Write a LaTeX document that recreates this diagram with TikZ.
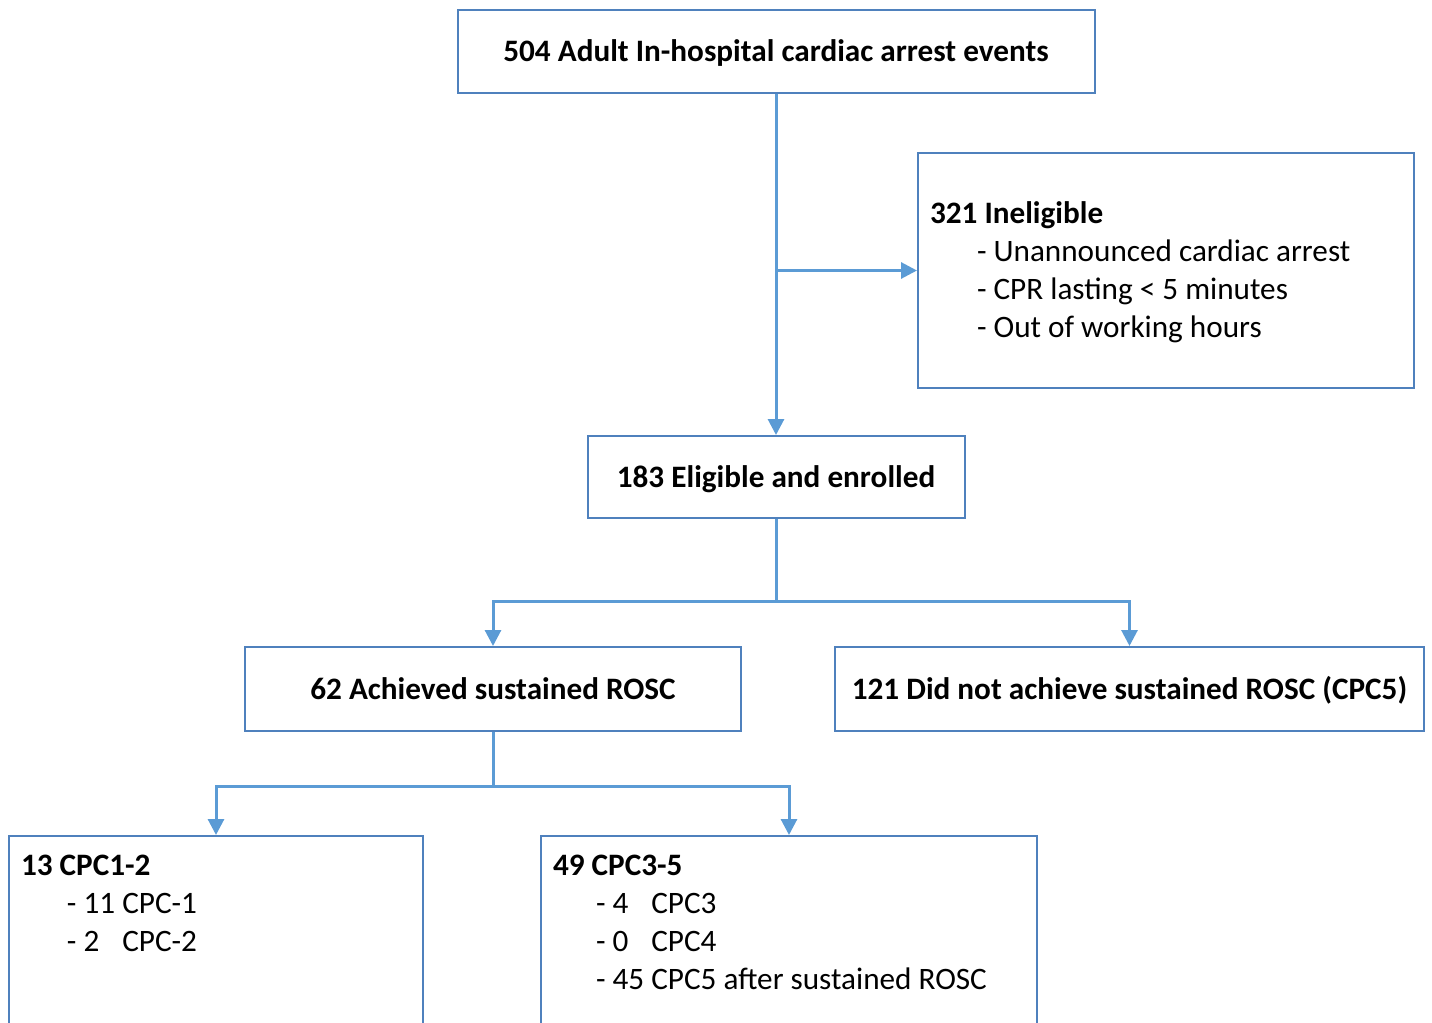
\documentclass[tikz,border=0pt]{standalone}
\usepackage{fontspec}
\setmainfont{Carlito}
\usetikzlibrary{positioning, arrows.meta, calc}
\definecolor{flowLine}{RGB}{91,155,213}
\definecolor{boxEdge}{RGB}{79,129,189}
\tikzset{
  flowbox/.style={
    draw=boxEdge, line width=1pt, rectangle, align=center,
    font=\fontsize{15.6}{19}\selectfont\bfseries,
    inner sep=2pt, text height=10pt, text depth=0pt
  },
  % Boxes holding a short list
  listbox/.style={
    draw=boxEdge, line width=1pt, rectangle, align=flush left,
    font=\fontsize{15.6}{19}\selectfont,
    inner xsep=6pt, inner ysep=2pt
  },
  listText/.style={
    anchor=north west, align=flush left, outer sep=0pt,
    font=\fontsize{15.6}{19}\selectfont,
    inner xsep=6.5pt, inner ysep=10pt
  },
  % Connectors
  link/.style={
    draw=flowLine, line width=1.5pt
  },
  arrowLink/.style={
    link, -{Triangle[length=8pt, width=8pt]}
  },
}

\begin{document}
\begin{tikzpicture}[x=0.5pt, y=-0.5pt]

  \clip (0,0) rectangle (1432,1023);

  %% ── Boxes ──
  \node[flowbox, minimum width=318.5pt, minimum height=41.5pt] (events) at (776,51.5)
    {504 Adult In-hospital cardiac arrest events};
  \node[listbox, text width=236pt, minimum height=117.5pt] (inelig) at (1166,270.5)
    {\rule{0pt}{13pt}\textbf{321 Ineligible}\\
     \hspace*{23.5pt}- Unannounced cardiac arrest\\
     \hspace*{23.5pt}- CPR lasting < 5 minutes\\
     \hspace*{23.5pt}- Out of working hours};
  \node[flowbox, minimum width=188.5pt, minimum height=41pt] (elig) at (776,477)
    {183 Eligible and enrolled};
  \node[flowbox, minimum width=248pt, minimum height=42pt] (rosc) at (493,689)
    {62 Achieved sustained ROSC};
  \node[flowbox, minimum width=294.5pt, minimum height=42pt] (noRosc) at (1129.5,689)
    {121 Did not achieve sustained ROSC (CPC5)};

  %% ── Outcome boxes (run past the bottom edge) ──
  \node[listbox, anchor=north west, minimum width=207pt, minimum height=115pt,
        label={[listText]north west:{\textbf{13 CPC1-2}\\
          \hspace*{23pt}- 11 CPC-1\\
          \hspace*{23pt}- 2\hphantom{0} CPC-2}}] (cpcGood) at (8,835) {};
  \node[listbox, anchor=north west, minimum width=248pt, minimum height=115pt,
        label={[listText]north west:{\textbf{49 CPC3-5}\\
          \hspace*{21.5pt}- 4\hphantom{0} CPC3\\
          \hspace*{21.5pt}- 0\hphantom{0} CPC4\\
          \hspace*{21.5pt}- 45 CPC5 after sustained ROSC}}] (cpcPoor) at (540,835) {};

  %% ── Split points ──
  \coordinate (splitTop) at ($(elig.south)+(0,82)$);
  \coordinate (splitLow) at ($(rosc.south)+(0,54)$);

  %% ── Connectors ──
  \draw[arrowLink] (events.south) -- (elig.north);
  \draw[arrowLink] (events.south |- inelig.west) -- (inelig.west);

  \draw[arrowLink] (elig.south) -- (splitTop) -| (rosc.north);
  \draw[arrowLink] (splitTop) -| (noRosc.north);

  \draw[arrowLink] (rosc.south) -- (splitLow) -| (cpcGood.north);
  \draw[arrowLink] (splitLow) -| (cpcPoor.north);

\end{tikzpicture}
\end{document}
